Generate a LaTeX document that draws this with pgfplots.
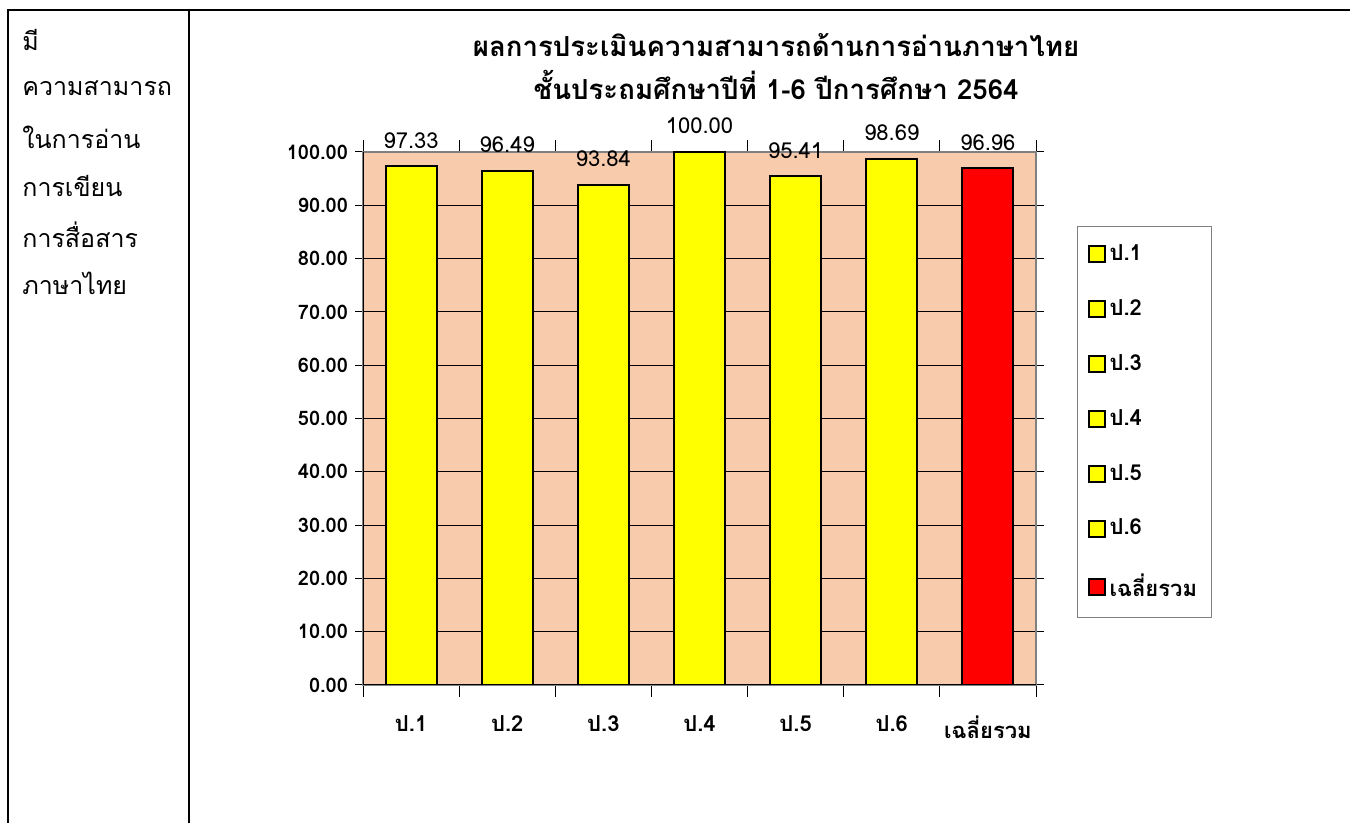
\documentclass[border=0pt]{standalone}
\usepackage{pgfplots}
\pgfplotsset{compat=1.18}
\usepackage{fontspec}
\setmainfont{Loma}[Script=Thai]

\definecolor{peach}{RGB}{248,203,173}
\definecolor{baryellow}{RGB}{255,255,0}
\definecolor{barred}{RGB}{255,0,0}

\begin{document}
\begin{tikzpicture}
% page frame, 1px = 0.5pt
\useasboundingbox (0,0) rectangle (675pt,411.5pt);
\draw[line width=1pt] (4pt,0) -- (4pt,406.5pt) -- (675pt,406.5pt);
\draw[line width=1pt] (94.5pt,0) -- (94.5pt,406.5pt);

% left cell text
\begin{scope}[every node/.style={anchor=west, inner sep=0pt, font=\fontsize{12.5pt}{15pt}\selectfont}]
\node at (11pt,391.5pt) {มี};
\node at (11pt,367.5pt) {ความสามารถ};
\node at (11pt,343pt) {ในการอ่าน};
\node at (11pt,318.5pt) {การเขียน};
\node at (11pt,294pt) {การสื่อสาร};
\node at (11pt,270pt) {ภาษาไทย};
\end{scope}

% title
\node[font=\fontsize{13.8pt}{16pt}\selectfont\bfseries] at (388pt,389pt) {ผลการประเมินความสามารถด้านการอ่านภาษาไทย};
\node[font=\fontsize{13.8pt}{16pt}\selectfont\bfseries] at (388pt,369pt) {ชั้นประถมศึกษาปีที่ 1-6 ปีการศึกษา 2564};

\begin{axis}[
    at={(181.5pt,69pt)}, anchor=south west,
    scale only axis, width=336.5pt, height=266.5pt,
    ybar,
    xmin=-0.5, xmax=6.5, ymin=0, ymax=100,
    axis background/.style={fill=peach},
    axis line style={draw=gray, line width=0.8pt},
    xtick={0,...,6},
    xticklabels={ป.1,ป.2,ป.3,ป.4,ป.5,ป.6,เฉลี่ยรวม},
    minor xtick={-0.5,0.5,...,6.5},
    major x tick style={draw=none},
    minor x tick style={black, line width=0.5pt},
    minor tick length=6pt,
    xtick align=outside,
    x tick label style={font=\fontsize{11pt}{13pt}\selectfont\bfseries, yshift=-8pt},
    ytick={0,10,...,100},
    ytick align=outside,
    major tick length=4pt,
    y tick style={black, line width=0.5pt},
    yticklabel style={font=\fontsize{10pt}{12pt}\selectfont\bfseries,
        /pgf/number format/.cd, fixed, fixed zerofill, precision=2, assume math mode=true},
    ymajorgrids=true,
    grid style={black, line width=0.5pt},
    bar width=25.5pt,
    nodes near coords,
    point meta=y,
    nodes near coords style={font=\fontsize{11pt}{13pt}\selectfont, anchor=center, yshift=13pt,
        /pgf/number format/.cd, fixed, fixed zerofill, precision=2, assume math mode=true},
    legend image code/.code={\draw[#1, draw=black, line width=1pt] (0pt,-4pt) rectangle (8pt,4pt);},
    legend style={at={(1.061,0.861)}, anchor=north west, draw=gray, line width=0.5pt,
        font=\fontsize{11pt}{13pt}\selectfont\bfseries, row sep=14pt,
        inner xsep=5pt, inner ysep=7pt},
    legend cell align=left,
]
\addplot[fill=baryellow, draw=black, line width=1pt, bar shift=0pt] coordinates {(0,97.33)};
\addplot[fill=baryellow, draw=black, line width=1pt, bar shift=0pt] coordinates {(1,96.49)};
\addplot[fill=baryellow, draw=black, line width=1pt, bar shift=0pt] coordinates {(2,93.84)};
\addplot[fill=baryellow, draw=black, line width=1pt, bar shift=0pt] coordinates {(3,100.00)};
\addplot[fill=baryellow, draw=black, line width=1pt, bar shift=0pt] coordinates {(4,95.41)};
\addplot[fill=baryellow, draw=black, line width=1pt, bar shift=0pt] coordinates {(5,98.69)};
\addplot[fill=barred, draw=black, line width=1pt, bar shift=0pt] coordinates {(6,96.96)};
\legend{ป.1,ป.2,ป.3,ป.4,ป.5,ป.6,เฉลี่ยรวม}
\draw[black, line width=0.8pt] (rel axis cs:0,1) -- (rel axis cs:0,0) -- (rel axis cs:1,0);
\end{axis}
\end{tikzpicture}
\end{document}
